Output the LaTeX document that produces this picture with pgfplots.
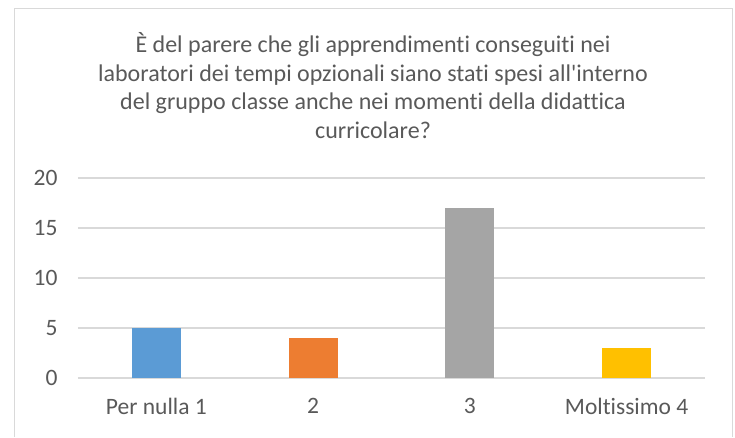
\documentclass[border=0pt]{standalone}
\usepackage{pgfplots}
\pgfplotsset{compat=1.18}
\usetikzlibrary{calc}
\usepackage{fontspec}
\setmainfont{Carlito}[Ligatures={NoCommon,TeXOff}]
\definecolor{txt}{HTML}{595959}
\definecolor{grd}{HTML}{D9D9D9}
\definecolor{cblue}{HTML}{5B9BD5}
\definecolor{corange}{HTML}{ED7D31}
\definecolor{cgray}{HTML}{A5A5A5}
\definecolor{cyellow}{HTML}{FFC000}
\begin{document}
\begin{tikzpicture}
\begin{axis}[
  name=ax,
  scale only axis, width=627pt, height=200pt,
  xmin=0.5, xmax=4.5, ymin=0, ymax=20,
  ytick={0,5,10,15,20},
  xtick={1,2,3,4},
  xticklabels={Per nulla 1,2,3,Moltissimo 4},
  axis line style={draw=none},
  major tick length=0pt,
  ymajorgrids, grid style={grd,line width=1.5pt},
  tick label style={txt,font=\fontsize{23.5}{28}\selectfont},
  /pgf/number format/assume math mode=true,
  yticklabel style={xshift=-17pt},
  xticklabel style={yshift=-17pt},
  ybar, bar width=49pt, bar shift=0pt,
]
\addplot[draw=none,fill=cblue] coordinates {(1,5)};
\addplot[draw=none,fill=corange] coordinates {(2,4)};
\addplot[draw=none,fill=cgray] coordinates {(3,17)};
\addplot[draw=none,fill=cyellow] coordinates {(4,3)};
\end{axis}
\coordinate (O) at ($(ax.south west)+(-78pt,-59pt)$);
\draw[grd,line width=1.5pt] ($(O)+(14.5pt,0)$) -- ($(O)+(14.5pt,428.5pt)$) -- ($(O)+(732.5pt,428.5pt)$) -- ($(O)+(732.5pt,0)$);
\node[txt,align=center,anchor=north,font=\fontsize{24}{28.5}\selectfont] at ($(O)+(373pt,408pt)$)
  {È del parere che gli apprendimenti conseguiti nei\\
   laboratori dei tempi opzionali siano stati spesi all'interno\\
   del gruppo classe anche nei momenti della didattica\\
   curricolare?};
\pgfresetboundingbox
\useasboundingbox (O) rectangle ($(O)+(735pt,437pt)$);
\end{tikzpicture}
\end{document}
